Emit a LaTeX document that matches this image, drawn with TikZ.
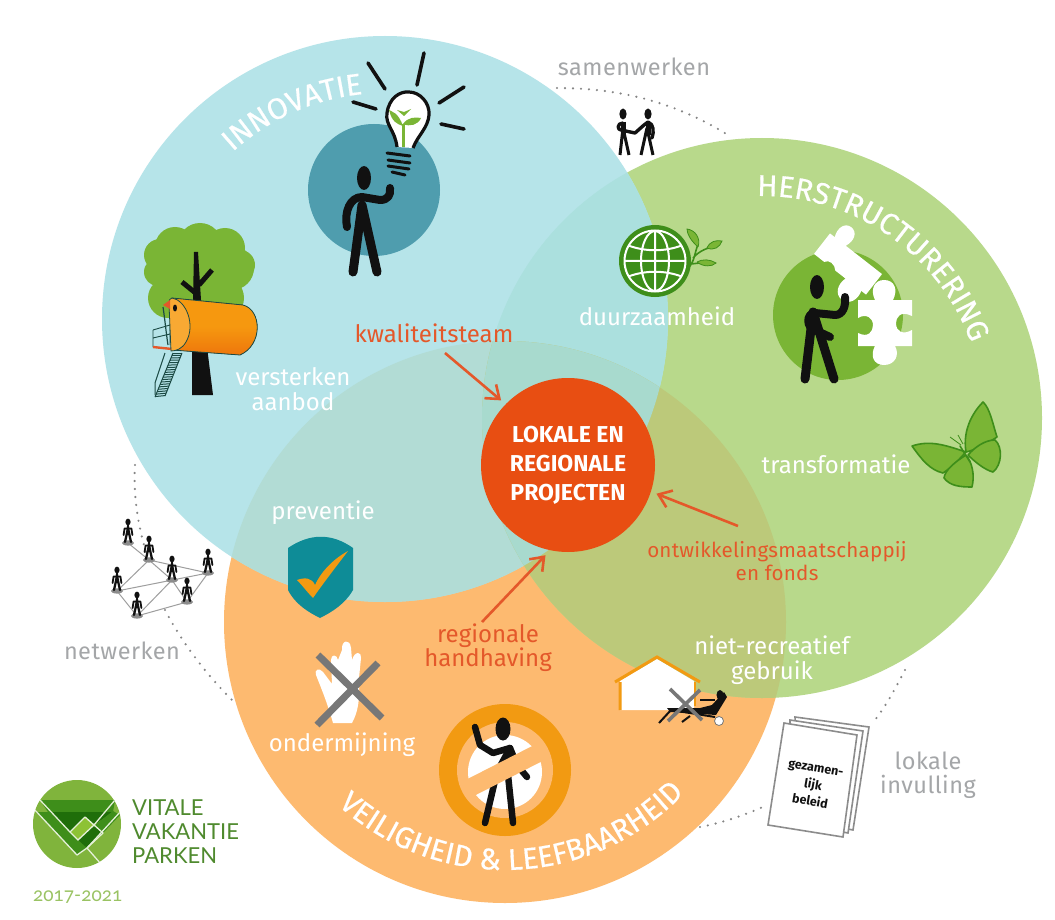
\documentclass[tikz,border=0pt]{standalone}
\usepackage{fontspec}
\setmainfont{Fira Sans}
\newfontfamily\logofont{Lato}
\usetikzlibrary{decorations.text,arrows.meta}
\definecolor{cblue}{HTML}{B6E4E9}
\definecolor{cgreen}{HTML}{B8D98B}
\definecolor{corange}{HTML}{FDBA70}
\definecolor{bluegreen}{HTML}{ABE0DE}
\definecolor{blueorange}{HTML}{B2DCD5}
\definecolor{greenorange}{HTML}{BCC97A}
\definecolor{triple}{HTML}{A8DACE}
\definecolor{cred}{HTML}{E84E12}
\definecolor{tred}{HTML}{E4582A}
\definecolor{teal1}{HTML}{4F9DAE}
\definecolor{leaf}{HTML}{7AB535}
\definecolor{dkleaf}{HTML}{3E8E1A}
\definecolor{ring}{HTML}{F29A12}
\definecolor{capsule}{HTML}{F6980F}
\definecolor{capsuled}{HTML}{EE760C}
\definecolor{capsulel}{HTML}{F8A933}
\definecolor{dots}{HTML}{858585}
\definecolor{gtext}{HTML}{A4A6A8}
\definecolor{ink}{HTML}{111111}
\definecolor{crossg}{HTML}{777777}
\definecolor{logod}{HTML}{1F6E0A}
\definecolor{logom}{HTML}{3E8E1A}
\definecolor{logol}{HTML}{80B43C}
\definecolor{logoq}{HTML}{8DC234}
\definecolor{logot}{HTML}{4F8A2E}
\definecolor{shield}{HTML}{0E8C97}
\definecolor{stair}{HTML}{1B4A44}
\tikzset{
 wlabel/.style={text=white,font=\fontsize{24}{25}\selectfont,align=center,inner sep=0pt},
 rlabel/.style={text=tred,font=\fontsize{24}{24}\selectfont,align=center,inner sep=0pt},
 glabel/.style={text=gtext,font=\fontsize{23.5}{24}\selectfont\addfontfeature{LetterSpace=2},align=center,inner sep=0pt},
 limb/.style={draw=ink,line width=#1,line cap=round,line join=round},
 limb/.default=8pt,
 dotline/.style={draw=dots,line width=2.4pt,line cap=round,dash pattern=on 0pt off 8pt},
 arr/.style={draw=tred,line width=2.6pt,-{Straight Barb[length=12pt,width=18pt,line width=2.6pt]}},
 ray/.style={draw=ink,line width=3.6pt,line cap=round},
 net/.style={draw=black!38,line width=1pt},
}
\newcommand{\mini}[1]{%
 \fill[black!45] (#1) ellipse[x radius=6pt,y radius=2.6pt];
 \begin{scope}[shift={(#1)}]
  \fill[ink] (0,-21) ellipse[x radius=2.6pt,y radius=3.4pt];
  \draw[ink,line width=2.3pt,line cap=round] (-3,-1)--(-.8,-11)--(0,-16)--(.8,-11)--(3,-1);
  \draw[ink,line width=1.8pt,line cap=round,line join=round] (-4.4,-8)--(-3.4,-14.5)--(3.4,-14.5)--(4.4,-8);
 \end{scope}}
\begin{document}
\begin{tikzpicture}[x=1pt,y=-1pt]
\useasboundingbox (0,0) rectangle (1055,920);
\fill[white] (0,0) rectangle (1055,920);
% dotted links
\coordinate (sw0) at (557,88); \coordinate (sw1) at (728,135);
\draw[dotline] (sw0) .. controls (625,88) and (680,105) .. (sw1);
\coordinate (nw0) at (135,465); \coordinate (nw1) at (146,552);
\draw[dotline] (nw0) .. controls (133,495) and (138,525) .. (nw1);
\coordinate (nw2) at (165,610); \coordinate (nw3) at (232,700);
\draw[dotline] (nw2) .. controls (178,635) and (200,668) .. (nw3);
\coordinate (li0) at (905,670); \coordinate (li1) at (875,720);
\draw[dotline] (li0) .. controls (897,685) and (888,703) .. (li1);
\coordinate (li2) at (700,827); \coordinate (li3) at (765,806);
\draw[dotline] (li2) .. controls (722,823) and (745,815) .. (li3);
% main circles
\coordinate (cb) at (385,319); \coordinate (cg) at (762,418); \coordinate (co) at (505,622);
\fill[corange] (co) circle[radius=281pt];
\fill[cgreen] (cg) circle[radius=280pt];
\fill[cblue] (cb) circle[radius=283pt];
\begin{scope}\clip (cb) circle[radius=283pt]; \fill[bluegreen] (cg) circle[radius=280pt]; \fill[blueorange] (co) circle[radius=281pt]; \end{scope}
\begin{scope}\clip (cg) circle[radius=280pt]; \fill[greenorange] (co) circle[radius=281pt]; \end{scope}
\begin{scope}\clip (cb) circle[radius=283pt]; \clip (cg) circle[radius=280pt]; \fill[triple] (co) circle[radius=281pt]; \end{scope}
% arc titles
\path[decorate,decoration={text along path,text align=center,text={|\fontsize{30}{30}\selectfont\addfontfeature{FakeBold=0.5}\color{white}|INNOVATIE}}]
  plot[domain=136:92,samples=60] ({385+226*cos(\x)},{319-226*sin(\x)});
\path[decorate,decoration={text along path,text align=center,text={|\fontsize{30}{30}\selectfont\addfontfeature{FakeBold=0.5}\color{white}|HERSTRUCTURERING}}]
  plot[domain=94:17,samples=80] ({762+222*cos(\x)},{418-222*sin(\x)});
\path[decorate,decoration={text along path,text align=center,text={|\fontsize{30}{31}\selectfont\addfontfeature{FakeBold=0.5}\color{white}|VEILIGHEID {\&} LEEFBAARHEID}}]
  plot[domain=220:324,samples=110] ({505+248*cos(\x)},{622-248*sin(\x)});
% innovation icon
\fill[teal1] (374,190) circle[radius=66pt];
\fill[ink] (364,178) ellipse[x radius=7pt,y radius=12pt];
\draw[limb=9pt] (353,272) -- (362,205) -- (377,272);
\draw[limb=8pt] (347,227) .. controls (344,212) and (350,197) .. (362,197) -- (380,200) .. controls (388,200) and (391,195) .. (390,188);
\draw[ray] (368,63)--(385,89) (424,53)--(417,85) (464,87)--(439,103) (441,124)--(464,129) (353,102)--(376,109);
\filldraw[fill=white,draw=ink,line width=3.2pt,line join=round] (397,147) .. controls (395,130) and (385,125) .. (387,113) .. controls (389,98) and (400,91) .. (409,92) .. controls (420,92) and (430,103) .. (429,115) .. controls (428,128) and (418,135) .. (413,148);
\draw[leaf,line width=3pt] (403,147) -- (403,124);
\fill[leaf] (403,126) .. controls (398,112) and (392,112) .. (389,110) .. controls (392,122) and (397,124) .. (403,126);
\fill[leaf] (403,124) .. controls (408,117) and (415,117) .. (421,118) .. controls (418,125) and (410,127) .. (403,124);
\fill[leaf] (404,116) -- (397,110) -- (404,112) -- (411,109) -- cycle;
\draw[ray,line width=3pt] (387,153)--(410,156) (388,160)--(410,163) (388,166)--(409,169) (392,172)--(405,175);
% tree house
\foreach \cx/\cy/\r in {175/247/20,200/245/22,225/248/20,160/255/16,158/272/14,190/275/35,232/268/22,168/298/20,222/298/22,240/265/15} \fill[leaf] (\cx,\cy) circle[radius=\r pt];
\fill[ink] (194,252) -- (198,252) -- (201,300) -- (208,355) -- (213,395) -- (192,395) -- (192,353) -- (193,300) -- cycle;
\draw[limb=5pt,line cap=butt] (182,282)--(198,295) (212,270)--(199,285);
\draw[stair,line width=.9pt] (153,330) -- (170,325) -- (170,345) (153,330) -- (153,347) (153,338) -- (170,334);
\draw[tred,line width=2.4pt] (153,347)--(172,349);
\draw[stair,line width=1pt] (165,353)--(155,383) (155,383)--(155,395);
\draw[stair,line width=1pt] (182,353)--(165,396) (173,353)--(155,397);
\foreach \t in {0,.055,...,1} \draw[stair,line width=1pt] ({173-18*\t},{353+44*\t}) -- ({182-17*\t},{353+43*\t});
\filldraw[top color=capsule,bottom color=capsuled,middle color=capsule,draw=stair,line width=.8pt] (172,298) -- (243,305) .. controls (262,310) and (263,345) .. (240,355) -- (172,350) -- cycle;
\filldraw[fill=capsulel,draw=stair,line width=.8pt] (172,298) .. controls (186,300) and (196,325) .. (186,342) .. controls (182,349) and (176,351) .. (171,351) -- (169,304) .. controls (169,300) and (170,298) .. (172,298);
\fill[ink] (175,308) ellipse[x radius=2pt,y radius=3.5pt];
\fill[tred] (163,305) -- (170,300) -- (170,309) -- cycle;
\draw[stair,line width=1.2pt] (163,307) .. controls (165,320) and (166,332) .. (168,345);
% text labels
\node[wlabel] (versterken) at (293,389) {versterken\\aanbod};
\node[wlabel] (duurzaam) at (657,316) {duurzaamheid};
\node[wlabel] (transform) at (836,464) {transformatie};
\node[wlabel] (preventie) at (323,513) {preventie};
\node[wlabel] (ondermijn) at (342,745) {ondermijning};
\node[wlabel] (nietrec) at (772,660) {niet-recreatief\\gebruik};
% globe
\fill[dkleaf] (655,261) circle[radius=36pt];
\draw[white,line width=2pt] (655,261) circle[radius=30.5pt];
\begin{scope}\clip (655,261) circle[radius=30pt];
\draw[white,line width=2pt] (655,261) ellipse[x radius=14pt,y radius=30pt] (655,231)--(655,291) (625,261)--(685,261) (627,245) .. controls (645,252) and (665,252) .. (683,245) (627,277) .. controls (645,270) and (665,270) .. (683,277);
\end{scope}
\draw[dkleaf,line width=1.6pt] (688,268) .. controls (695,262) and (695,250) .. (698,245) (693,258) .. controls (700,250) and (708,248) .. (715,246) (691,264) -- (708,262);
\filldraw[fill=leaf,draw=dkleaf,line width=.8pt] (698,247) .. controls (690,240) and (687,233) .. (687,229) .. controls (695,230) and (701,238) .. (698,247);
\filldraw[fill=leaf,draw=dkleaf,line width=.8pt] (707,248) .. controls (710,241) and (716,240) .. (722,241) .. controls (720,247) and (714,251) .. (707,248);
\filldraw[fill=leaf,draw=dkleaf,line width=.8pt] (697,262) .. controls (702,259) and (710,259) .. (716,263) .. controls (712,267) and (703,267) .. (697,262);
% handshake
\fill[ink] (623,114) ellipse[x radius=3.6pt,y radius=5.5pt] (648,114) ellipse[x radius=3.6pt,y radius=5.5pt];
\draw[limb=3pt,line cap=butt] (620,155) -- (623,128) -- (629,155) (641,155) -- (647,128) -- (653,155);
\draw[limb=3.4pt] (623,123) .. controls (617,123) and (617,130) .. (621,130) -- (635,133) -- (644,125) -- (648,122) .. controls (654,124) and (654,132) .. (652,138);
\draw[limb=5pt,line cap=butt] (623,122)--(623,135) (648,122)--(648,135);
% puzzle icon
\fill[leaf] (838,315) circle[radius=65pt];
\fill[white] (858,300) -- (875,300) .. controls (870,290) and (874,280) .. (884,280) .. controls (895,280) and (898,290) .. (893,300) -- (912,300) -- (912,316) .. controls (900,310) and (896,318) .. (896,323) .. controls (896,332) and (903,335) .. (912,330) -- (912,346) -- (895,346) .. controls (900,355) and (895,365) .. (884,365) .. controls (873,365) and (870,355) .. (875,346) -- (858,346) -- (858,333) .. controls (868,338) and (873,332) .. (873,325) .. controls (873,318) and (866,313) .. (858,318) -- cycle;
\begin{scope}[shift={(848,264)},rotate=-38]
\fill[white] (-33,-13) -- (-27,-13) .. controls (-31,-22) and (-28,-31) .. (-20,-31) .. controls (-12,-31) and (-9,-22) .. (-13,-13) -- (33,-13) -- (33,13) -- (27,13) .. controls (30,22) and (26,32) .. (17,32) .. controls (8,32) and (4,22) .. (7,13) -- (-6,13) .. controls (-10,8) and (-18,8) .. (-20,13) -- (-33,13) -- cycle;
\end{scope}
\fill[ink] (817,287) ellipse[x radius=7pt,y radius=12pt];
\draw[limb=9pt] (805,379) -- (813,312) -- (834,379);
\draw[limb=8pt] (815,313) .. controls (806,313) and (806,328) .. (815,330) -- (830,337);
\draw[limb=8pt] (815,313) -- (835,315) .. controls (843,315) and (846,306) .. (845,297);
% butterfly
\begin{scope}
\filldraw[fill=leaf,draw=dkleaf,line width=1.6pt,line join=round] (966,452) .. controls (962,428) and (975,410) .. (983,402) .. controls (990,408) and (993,425) .. (997,437) .. controls (985,445) and (975,450) .. (966,452);
\filldraw[fill=leaf,draw=dkleaf,line width=1.6pt,line join=round] (966,452) .. controls (945,445) and (930,440) .. (912,446) .. controls (922,460) and (930,470) .. (943,473) .. controls (955,465) and (960,458) .. (966,452);
\filldraw[fill=leaf,draw=dkleaf,line width=1.6pt,line join=round] (968,455) .. controls (975,447) and (985,440) .. (995,440) .. controls (1003,447) and (1002,465) .. (993,472) .. controls (985,470) and (975,462) .. (968,455);
\filldraw[fill=leaf,draw=dkleaf,line width=1.6pt,line join=round] (966,455) .. controls (955,462) and (945,470) .. (944,478) .. controls (950,486) and (960,487) .. (972,487) .. controls (975,475) and (972,462) .. (966,455);
\draw[dkleaf,line width=1.6pt,line cap=round] (960,446) -- (970,462);
\draw[dkleaf,line width=.8pt] (961,445) -- (950,437) (963,444) -- (958,435);
\end{scope}
% shield
\fill[shield] (288,548) .. controls (310,533) and (332,533) .. (353,548) -- (353,590) .. controls (345,604) and (332,612) .. (320,618) .. controls (308,612) and (295,604) .. (288,590) -- cycle;
\fill[ring] (297,580) .. controls (305,577) and (312,578) .. (315,585) .. controls (322,570) and (335,558) .. (348,551) .. controls (335,568) and (322,585) .. (313,598) .. controls (307,592) and (302,585) .. (297,580) -- cycle;
% hand
\fill[white] (333,723) .. controls (328,705) and (322,690) .. (316,675) .. controls (314,670) and (319,667) .. (323,672) -- (332,684) -- (331,660) .. controls (331,654) and (337,654) .. (338,660) -- (342,650) .. controls (341,640) and (350,638) .. (351,648) -- (352,660) .. controls (355,650) and (362,652) .. (361,658) -- (359,678) .. controls (360,700) and (358,712) .. (352,723) -- cycle;
\draw[crossg,line width=7pt] (318,655)--(382,718) (378,663)--(317,725);
% no-entry
\fill[ring] (505,770) circle[radius=66pt];
\fill[corange] (505,770) circle[radius=48pt];
\fill[white] (505,772) circle[radius=37pt];
\fill[ink] (503,729) ellipse[x radius=7.5pt,y radius=11.5pt];
\draw[limb=6.5pt] (475,727) -- (480,745) -- (493,753) -- (510,748) -- (517,765) -- (527,777);
\draw[limb=6.5pt] (510,748) -- (497,772) -- (485,823);
\draw[limb=6.5pt] (508,752) -- (508,775) -- (513,823);
\begin{scope}[shift={(505,770)},rotate=27]
\fill[corange] (-47,-9) rectangle (47,9);
\end{scope}
% house + lounger
\fill[white] (620,681) -- (657,659) -- (694,681) -- (694,710) -- (620,710) -- cycle;
\draw[ring,line width=3pt,line join=miter] (620,710) -- (620,682) (615,682) -- (657,657) -- (700,682);
\draw[ring,line width=2pt] (695,682) -- (695,706);
\draw[ink,line width=2pt] (659,723) -- (671,710) -- (715,717) (690,716)--(682,722);
\fill[ink] (667,708) -- (700,708) -- (712,705) -- (724,692) -- (727,697) -- (716,715) -- (670,712) -- cycle;
\fill[ink] (720,695) ellipse[x radius=3.5pt,y radius=5pt];
\draw[ink,line width=1.5pt] (700,700) -- (715,700);
\draw[crossg,line width=3.6pt] (670,689)--(702,720) (700,690)--(668,721);
\filldraw[fill=white,draw=crossg,line width=.8pt] (719,721) circle[radius=4.5pt];
% documents
\filldraw[fill=white,draw=black!45,line width=1.6pt] (795,717) -- (869,727) -- (853,830) -- (800,820) -- cycle;
\filldraw[fill=white,draw=black!45,line width=1.6pt] (790,720) -- (863,731) -- (848,833) -- (790,822) -- cycle;
\filldraw[fill=white,draw=black!45,line width=1.6pt] (784,723) -- (857,735) -- (843,837) -- (768,825) -- cycle;
\node[rotate=-10,font=\fontsize{12.5}{17}\selectfont\bfseries,align=center,text=ink,inner sep=0pt] (beleid) at (813,785) {gezamen-\\lijk\\beleid};
% network
\coordinate (p1) at (128,543); \coordinate (p2) at (149,560); \coordinate (p3) at (172,580); \coordinate (p4) at (208,573);
\coordinate (p5) at (117,591); \coordinate (p6) at (187,602); \coordinate (p7) at (137,616);
\draw[net] (p1)--(p2) (p2)--(p3) (p2)--(p5) (p2)--(p4) (p5)--(p4) (p5)--(p7) (p7)--(p6) (p6)--(p4) (p3)--(p7) (p3)--(p6);
\foreach \p in {p1,p2,p3,p4,p5,p6,p7} {\mini{\p}}
% grey labels
\node[glabel] (samen) at (634,67) {samenwerken};
\node[glabel] (netw) at (122,651) {netwerken};
\node[glabel] (lokaal) at (928,775) {lokale\\invulling};
% centre
\node[circle,fill=cred,minimum size=174pt,inner sep=0pt,outer sep=6pt,text=white,align=center,font=\fontsize{23}{29}\selectfont\bfseries] (centre) at (568,465) {LOKALE EN\\REGIONALE\\PROJECTEN};
\node[rlabel] (kwal) at (434,333) {kwaliteitsteam};
\node[rlabel] (handh) at (488,648) {regionale\\handhaving};
\node[rlabel,font=\fontsize{20.6}{23}\selectfont\addfontfeature{LetterSpace=1}] (ontw) at (777,561) {ontwikkelingsmaatschappij\\en fonds};
\coordinate (a1) at (445,353); \coordinate (a2) at (482,622); \coordinate (a3) at (738,526);
\draw[arr] (a1) -- (centre.136);
\draw[arr] (a2) -- (centre.256);
\draw[arr] (a3) -- (centre.-18);
% logo
\fill[logol] (77,824) circle[radius=44pt];
\begin{scope}\clip (77,824) circle[radius=44pt];
\fill[logom] (40,800) -- (115,800) -- (113,812) -- (48,812) -- cycle;
\fill[logod] (48,812) -- (113,812) -- (94,825) -- (85,817) -- (70,832) -- cycle;
\fill[logom] (36,812) -- (50,812) -- (78,840) -- (87,848) -- (77,855) -- cycle;
\fill[logom] (95,825) -- (113,811) -- (120,815) -- (103,833) -- cycle;
\fill[logoq] (70,832) -- (85,817) -- (94,825) -- (78,840) -- cycle;
\fill[logod] (78,840) -- (94,825) -- (103,833) -- (87,848) -- cycle;
\draw[white!80!logol,line width=1.3pt,line join=round] (33,808) -- (77,855) -- (87,848) -- (122,810);
\draw[white!80!logol,line width=1.3pt,line join=round] (40,800) -- (70,832) -- (85,817) -- (103,833) -- (87,848) -- (101,864);
\draw[white!80!logol,line width=1.3pt] (70,832) -- (78,840) -- (94,825) -- (115,800);
\end{scope}
\node[text=logot,font=\logofont\fontsize{22}{24}\selectfont,align=left,inner sep=0pt,anchor=west] (vvp) at (132,832) {VITALE\\VAKANTIE\\PARKEN};
\node[text=logol!80!white,font=\logofont\fontsize{19}{20}\selectfont\addfontfeature{Numbers=OldStyle},inner sep=0pt,anchor=west] (jaar) at (33,897) {2017-2021};
\end{tikzpicture}
\end{document}
